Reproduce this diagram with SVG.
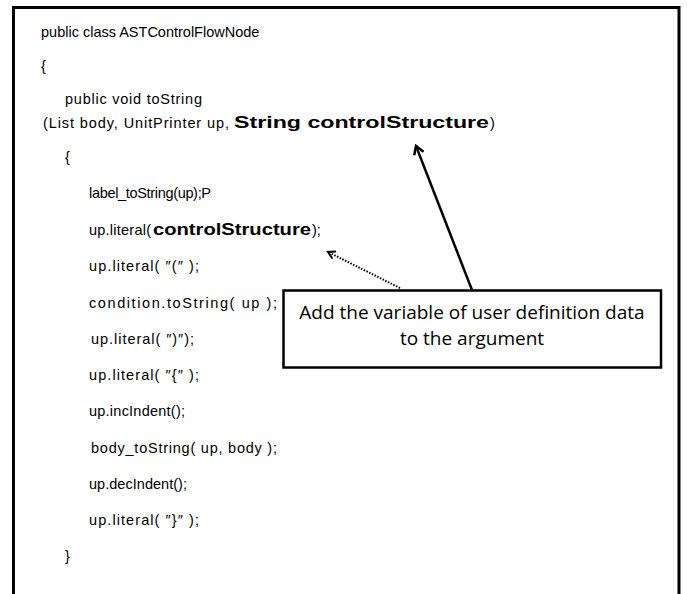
<svg xmlns="http://www.w3.org/2000/svg" width="687" height="594" viewBox="0 0 687 594">
<style>
.code{font-family:"Liberation Sans","Noto Sans CJK JP",sans-serif;font-size:14.5px;fill:#000}
.b{font-weight:bold;font-size:16px}
.note{font-family:"Open Sans","Noto Sans",sans-serif;font-size:19px;fill:#000;text-anchor:middle}
.frame{fill:none;stroke:#000;stroke-width:3}
.box{fill:#fff;stroke:#000;stroke-width:2.5}
.solid{fill:none;stroke:#000;stroke-width:2.5}
.dotted{fill:none;stroke:#000;stroke-width:2;stroke-dasharray:1.5 1.5}
</style>
<defs>
<marker id="open" markerWidth="12" markerHeight="12" refX="9" refY="6" orient="auto" markerUnits="userSpaceOnUse">
<path d="M1,1 L9,6 L1,11" fill="none" stroke="#000" stroke-width="2.5"/>
</marker>
<marker id="openS" markerWidth="10" markerHeight="10" refX="8" refY="5" orient="auto" markerUnits="userSpaceOnUse">
<path d="M1,1 L8,5 L1,9" fill="none" stroke="#000" stroke-width="2"/>
</marker>
</defs>
<rect width="687" height="594" fill="#fff"/>
<g id="code-frame">
<path class="frame" d="M13.5,594 V7.5 H679 V594"/>
<text class="code" x="41" y="37" font-size="14">public class ASTControlFlowNode</text>
<text class="code" x="41" y="71">{</text>
<text class="code" x="65" y="104" textLength="137" lengthAdjust="spacing">public void toString</text>
<text class="code" y="128"><tspan x="43" textLength="186" lengthAdjust="spacing">(List body, UnitPrinter up,</tspan><tspan class="b" x="234" textLength="255" lengthAdjust="spacingAndGlyphs">String controlStructure</tspan><tspan x="490">)</tspan></text>
<text class="code" x="65" y="162">{</text>
<text class="code" x="89" y="198" textLength="122" lengthAdjust="spacing">label_toString(up);P</text>
<text class="code" y="235"><tspan x="89" textLength="62" lengthAdjust="spacing">up.literal(</tspan><tspan class="b" x="153" textLength="158" lengthAdjust="spacingAndGlyphs">controlStructure</tspan><tspan x="312">);</tspan></text>
<text class="code" x="89" y="271" textLength="110" lengthAdjust="spacing">up.literal( ″(″ );</text>
<text class="code" x="89" y="308" textLength="188" lengthAdjust="spacing">condition.toString( up );</text>
<text class="code" x="91" y="344" textLength="103" lengthAdjust="spacing">up.literal( ″)″);</text>
<text class="code" x="89" y="380" textLength="110" lengthAdjust="spacing">up.literal( ″{″ );</text>
<text class="code" x="89" y="416" textLength="96" lengthAdjust="spacing">up.incIndent();</text>
<text class="code" x="91" y="453" textLength="186" lengthAdjust="spacing">body_toString( up, body );</text>
<text class="code" x="89" y="489" textLength="98" lengthAdjust="spacing">up.decIndent();</text>
<text class="code" x="89" y="525" textLength="110" lengthAdjust="spacing">up.literal( ″}″ );</text>
<text class="code" x="65" y="561">}</text>
</g>
<g id="connectors">
<line class="solid" x1="472" y1="290" x2="416" y2="146" marker-end="url(#open)"/>
<line class="dotted" x1="400" y1="288" x2="328" y2="252" marker-end="url(#openS)"/>
</g>
<g id="note">
<rect class="box" x="283.5" y="290.5" width="377.5" height="77"/>
<text class="note" x="472" y="319">Add the variable of user definition data</text>
<text class="note" x="472" y="345">to the argument</text>
</g>
</svg>
